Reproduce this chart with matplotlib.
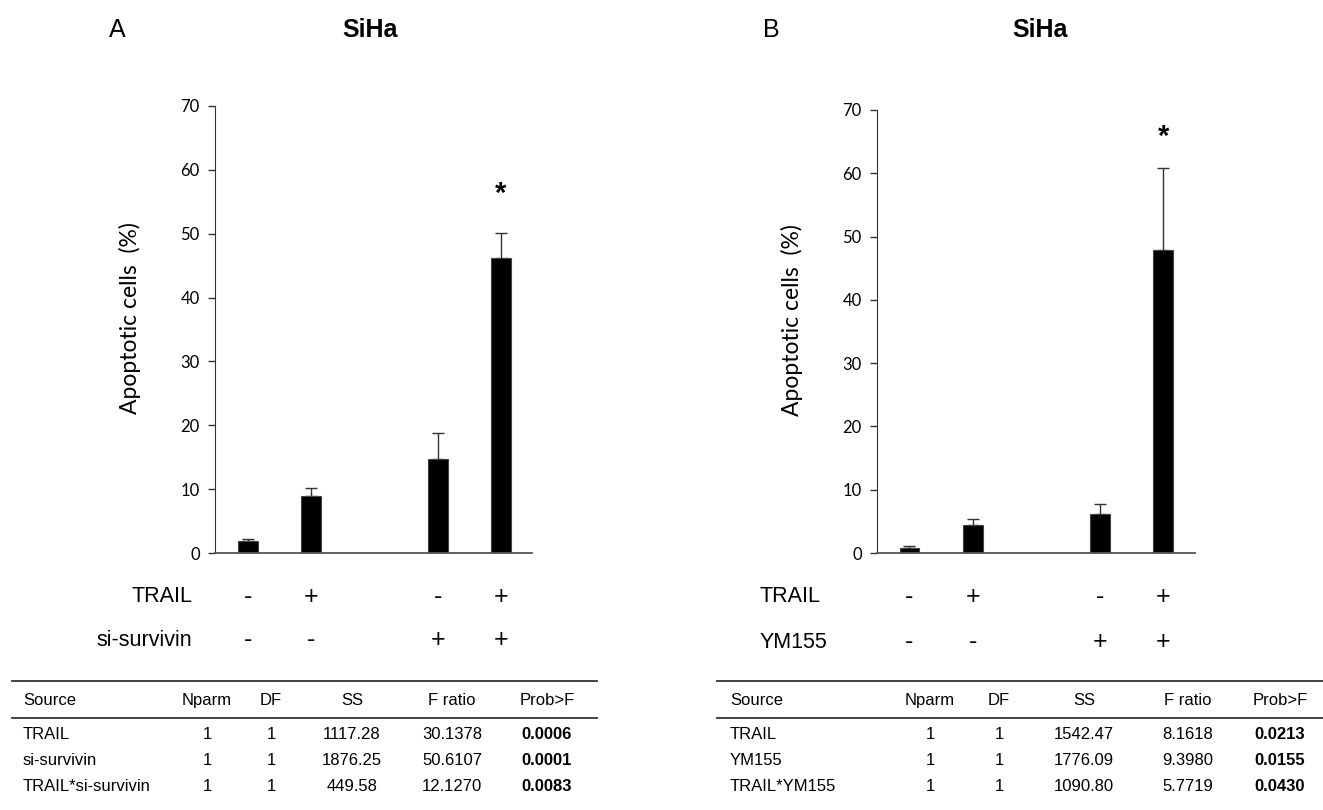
import matplotlib
matplotlib.use("Agg")
import matplotlib.pyplot as plt
from matplotlib.lines import Line2D
from matplotlib.transforms import blended_transform_factory

# ---------------- data ----------------
positions = [0, 1, 3, 4]
a_means = [1.9, 8.9, 14.7, 46.2]
a_err = [0.3, 1.3, 4.1, 3.9]
b_means = [0.75, 4.4, 6.1, 47.9]
b_err = [0.4, 1.0, 1.6, 12.9]
a_star = 56.3
b_star = 65.8

trail_signs = ["-", "+", "-", "+"]
second_signs = ["-", "-", "+", "+"]
a_second_label = "si-survivin"
b_second_label = "YM155"

yticks = [0, 10, 20, 30, 40, 50, 60, 70]
ylabel = "Apoptotic cells  (%)"

table_header = ["Source", "Nparm", "DF", "SS", "F ratio", "Prob>F"]
a_sources = ["TRAIL", "si-survivin", "TRAIL*si-survivin"]
a_nparm = ["1", "1", "1"]
a_df = ["1", "1", "1"]
a_ss = ["1117.28", "1876.25", "449.58"]
a_fratio = ["30.1378", "50.6107", "12.1270"]
a_prob = ["0.0006", "0.0001", "0.0083"]

b_sources = ["TRAIL", "YM155", "TRAIL*YM155"]
b_nparm = ["1", "1", "1"]
b_df = ["1", "1", "1"]
b_ss = ["1542.47", "1776.09", "1090.80"]
b_fratio = ["8.1618", "9.3980", "5.7719"]
b_prob = ["0.0213", "0.0155", "0.0430"]

# ---------------- figure ----------------
W, H = 1323, 810
fig = plt.figure(figsize=(W / 100, H / 100), dpi=100)
fig.patch.set_facecolor("white")

ARIAL = ["Liberation Sans", "DejaVu Sans"]
CAL = ["Lato", "DejaVu Sans"]


def fx(px):
    return px / W


def fy(py):
    return 1 - py / H


def make_panel(left, top, right, bottom, xlim, means, errs, star_y):
    ax = fig.add_axes([fx(left), fy(bottom), fx(right - left), (bottom - top) / H])
    ax.bar(positions, means, width=0.31, color="black", edgecolor="#444444",
           linewidth=0.8, zorder=2)
    ax.errorbar(positions, means, yerr=[[0] * len(errs), errs], fmt="none",
                ecolor="#333333", elinewidth=1.0, capsize=4, capthick=1.0, zorder=1)
    ax.set_xlim(*xlim)
    ax.set_ylim(0, 70)
    ax.set_yticks(yticks)
    ax.set_yticklabels([str(t) for t in yticks], family=CAL, fontsize=12)
    ax.set_xticks([])
    for s in ["top", "right"]:
        ax.spines[s].set_visible(False)
    ax.spines["left"].set_color("#333333")
    ax.spines["bottom"].set_color("#555555")
    ax.spines["bottom"].set_linewidth(1.3)
    ax.tick_params(axis="y", direction="out", length=5, width=1, color="#333333",
                   pad=6)
    ax.set_ylabel(ylabel, family=CAL, fontsize=16.5)
    ax.yaxis.set_label_coords(-0.232, 0.525)
    ax.text(positions[-1], star_y, "*", ha="center", va="center",
            fontsize=21, fontweight="bold", family=ARIAL)
    return ax


axA = make_panel(215, 106, 532, 553, (-0.52, 4.49), a_means, a_err, a_star)
axB = make_panel(877, 110, 1195, 553, (-0.51, 4.5), b_means, b_err, b_star)

# titles
fig.text(fx(117), fy(30), "A", ha="center", va="center", fontsize=18, family=ARIAL)
fig.text(fx(370), fy(30), "SiHa", ha="center", va="center", fontsize=18,
         fontweight="bold", family=ARIAL)
fig.text(fx(771), fy(30), "B", ha="center", va="center", fontsize=18, family=ARIAL)
fig.text(fx(1040), fy(30), "SiHa", ha="center", va="center", fontsize=18,
         fontweight="bold", family=ARIAL)


# +/- rows
def sign_rows(ax, second_label, label_x, align, y1, y2):
    tr = blended_transform_factory(ax.transData, fig.transFigure)
    for p, s in zip(positions, trail_signs):
        ax.text(p, fy(y1), s, transform=tr, ha="center", va="center",
                fontsize=18, family=ARIAL, clip_on=False)
    for p, s in zip(positions, second_signs):
        ax.text(p, fy(y2), s, transform=tr, ha="center", va="center",
                fontsize=18, family=ARIAL, clip_on=False)
    fig.text(fx(label_x), fy(y1), "TRAIL", ha=align, va="center", fontsize=15.5,
             family=ARIAL)
    fig.text(fx(label_x), fy(y2), second_label, ha=align, va="center",
             fontsize=15.5, family=ARIAL)


sign_rows(axA, a_second_label, 192, "right", 597, 640)
sign_rows(axB, b_second_label, 760, "left", 597, 642)


# tables
def draw_table(x0, x1, src_x, col_x, sources, cols, prob):
    for yy in (681, 718):
        fig.add_artist(Line2D([fx(x0), fx(x1)], [fy(yy), fy(yy)],
                              transform=fig.transFigure, color="#333333", lw=1.3))
    row_y = [733, 759, 785]
    fs = 12
    va = "center_baseline"
    fig.text(fx(src_x), fy(699), table_header[0], ha="left", va=va,
             fontsize=fs, family=ARIAL)
    for cx, h in zip(col_x, table_header[1:]):
        fig.text(fx(cx), fy(699), h, ha="center", va=va, fontsize=fs,
                 family=ARIAL)
    for i, ry in enumerate(row_y):
        fig.text(fx(src_x), fy(ry), sources[i], ha="left", va=va,
                 fontsize=fs, family=ARIAL)
        for cx, col in zip(col_x[:-1], cols):
            fig.text(fx(cx), fy(ry), col[i], ha="center", va=va,
                     fontsize=fs, family=ARIAL)
        fig.text(fx(col_x[-1]), fy(ry), prob[i], ha="center", va=va,
                 fontsize=fs, fontweight="bold", family=ARIAL)


draw_table(12, 597, 23, [207, 271, 352, 452, 547], a_sources,
           [a_nparm, a_df, a_ss, a_fratio], a_prob)
draw_table(717, 1323, 730, [930, 999, 1084, 1188, 1280], b_sources,
           [b_nparm, b_df, b_ss, b_fratio], b_prob)

fig.savefig("out.png", dpi=100, facecolor="white")
